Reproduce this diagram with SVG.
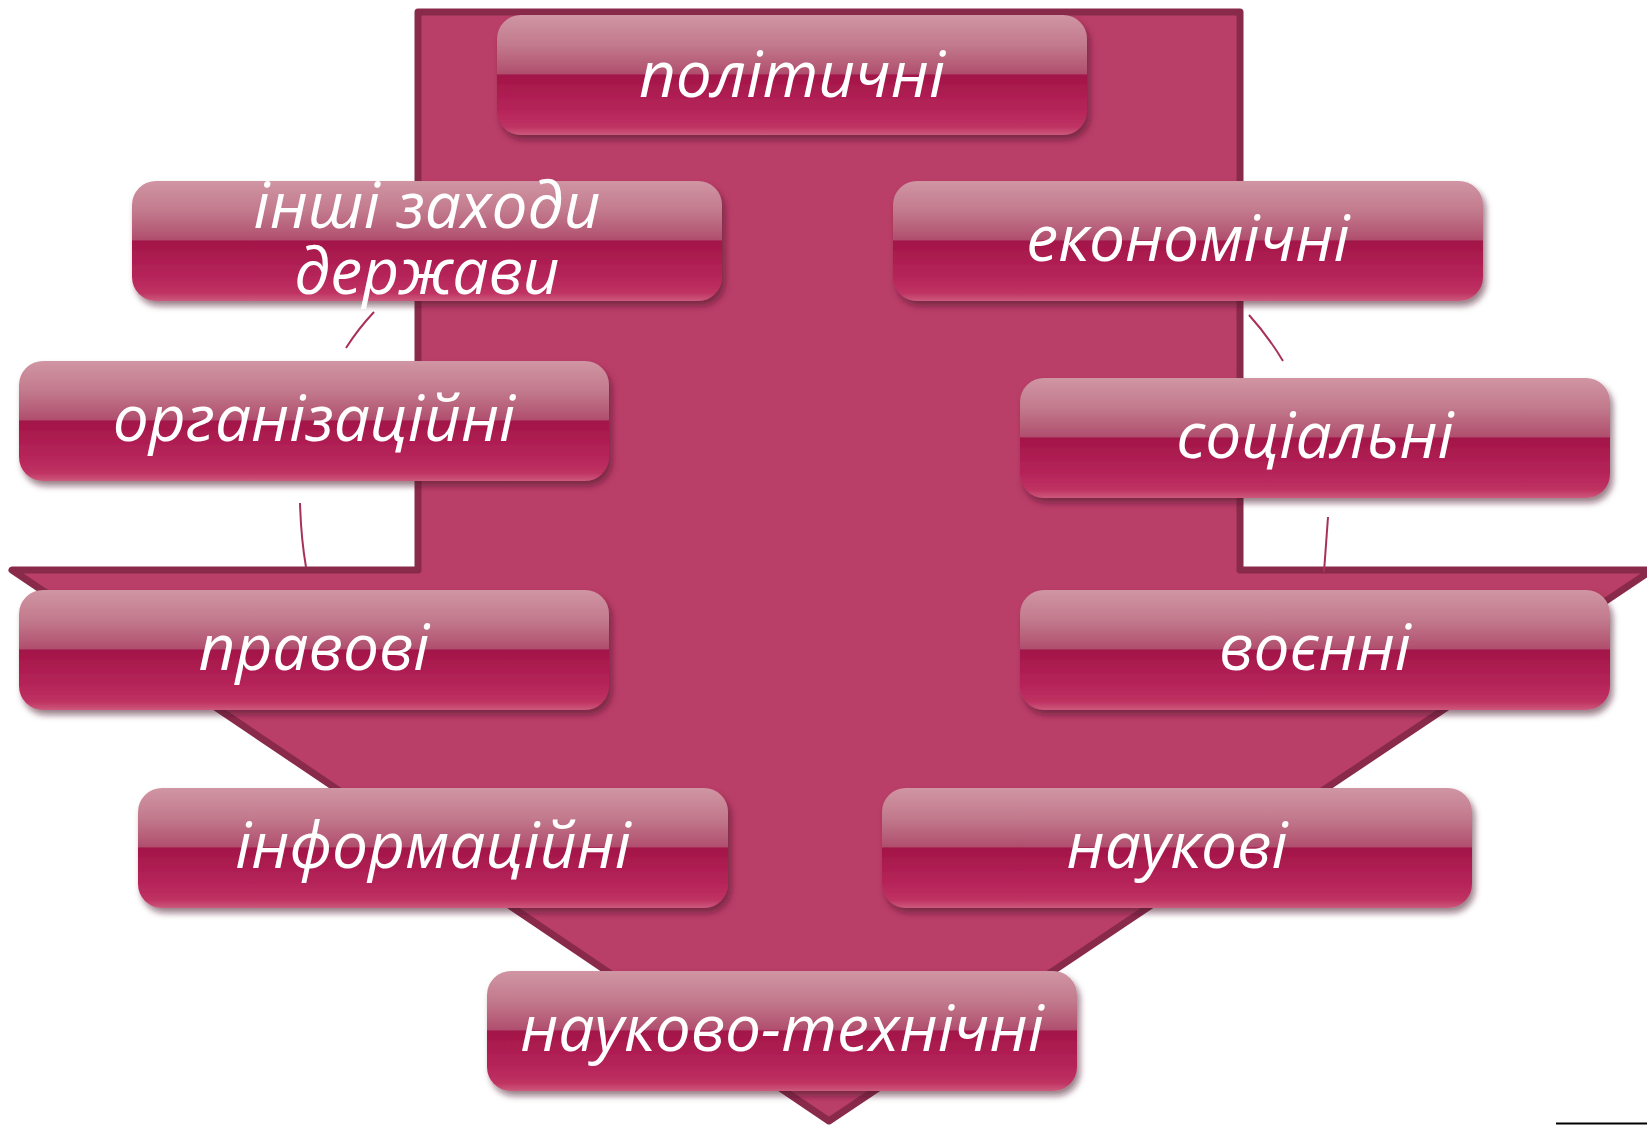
<svg xmlns="http://www.w3.org/2000/svg" width="1647" height="1125" viewBox="0 0 1647 1125">
<defs>
<linearGradient id="box" x1="0" y1="0" x2="0" y2="1">
<stop offset="0" stop-color="#d095a3"/>
<stop offset="0.25" stop-color="#c27a8d"/>
<stop offset="0.49" stop-color="#b04e6e"/>
<stop offset="0.5" stop-color="#a31548"/>
<stop offset="0.8" stop-color="#b6255a"/>
<stop offset="0.93" stop-color="#bf3262"/>
<stop offset="1" stop-color="#cc5a7c"/>
</linearGradient>
<filter id="sh" x="-5%" y="-10%" width="112%" height="130%">
<feDropShadow dx="3" dy="5" stdDeviation="3" flood-color="#4a0a25" flood-opacity="0.55"/>
</filter>
</defs>
<style>
.box{fill:url(#box);filter:url(#sh)}
.lbl{font-family:"Open Sans","Noto Sans","DejaVu Sans",sans-serif;font-style:italic;font-size:64px;fill:#ffffff;text-anchor:middle}
.con{fill:none;stroke:#a8305a;stroke-width:2}
</style>
<rect width="1647" height="1125" fill="#ffffff"/>
<g id="arrow">
<polygon points="418,12 1240,12 1240,570 1652,570 829,1121 12,570 418,570" fill="#b93e68" stroke="#8a2a4b" stroke-width="7" stroke-linejoin="round"/>
</g>
<g id="connectors">
<path class="con" d="M374,312 Q358,329 346,348"/>
<path class="con" d="M300,503 Q301,538 306,567"/>
<path class="con" d="M1249,315 Q1268,336 1283,361"/>
<path class="con" d="M1328,517 Q1326,545 1324,572"/>
</g>
<g id="n1"><rect class="box" x="497" y="15" width="590" height="120" rx="24"/><text class="lbl" x="792" y="97">політичні</text></g>
<g id="n2"><rect class="box" x="132" y="181" width="590" height="120" rx="24"/><text class="lbl" x="427" y="228">інші заходи</text><text class="lbl" x="427" y="294">держави</text></g>
<g id="n3"><rect class="box" x="893" y="181" width="590" height="120" rx="24"/><text class="lbl" x="1188" y="261">економічні</text></g>
<g id="n4"><rect class="box" x="19" y="361" width="590" height="120" rx="24"/><text class="lbl" x="314" y="441">організаційні</text></g>
<g id="n5"><rect class="box" x="1020" y="378" width="590" height="120" rx="24"/><text class="lbl" x="1315" y="458">соціальні</text></g>
<g id="n6"><rect class="box" x="19" y="590" width="590" height="120" rx="24"/><text class="lbl" x="314" y="670">правові</text></g>
<g id="n7"><rect class="box" x="1020" y="590" width="590" height="120" rx="24"/><text class="lbl" x="1315" y="670">воєнні</text></g>
<g id="n8"><rect class="box" x="138" y="788" width="590" height="120" rx="24"/><text class="lbl" x="433" y="868">інформаційні</text></g>
<g id="n9"><rect class="box" x="882" y="788" width="590" height="120" rx="24"/><text class="lbl" x="1177" y="868">наукові</text></g>
<g id="n10"><rect class="box" x="487" y="971" width="590" height="120" rx="24"/><text class="lbl" x="782" y="1051">науково-технічні</text></g>
<line x1="1556" y1="1123.5" x2="1647" y2="1123.5" stroke="#000000" stroke-width="2"/>
</svg>
